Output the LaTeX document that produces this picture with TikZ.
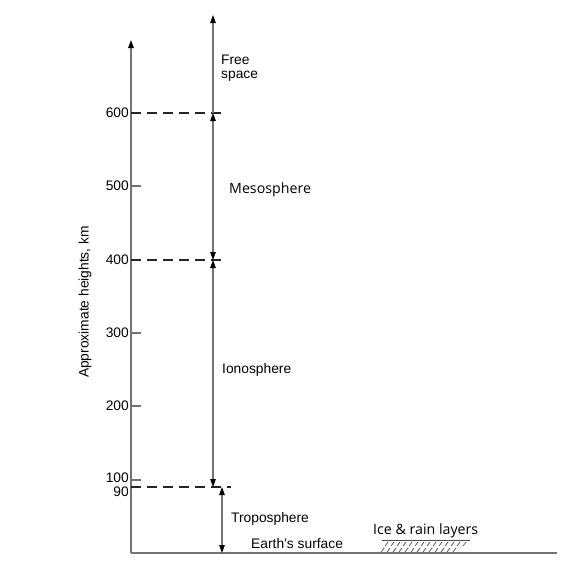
\documentclass[tikz,border=0pt]{standalone}
\usepackage{fontspec}
\setmainfont{Liberation Sans}
\newfontfamily\humanist{Open Sans}
\usetikzlibrary{arrows.meta}

\begin{document}
\begin{tikzpicture}
      [x=1pt, y=-1pt, font=\fontsize{13.8}{16}\selectfont,
      axisline/.style={draw=black!55, line width=1.3pt},
      layerline/.style={draw=black!85, line width=1.4pt, dash pattern=on 10pt off 6pt},
      span/.style={draw=black!55, line width=1.1pt,
        {Triangle[length=8pt,width=5.5pt,color=black]}-{Triangle[length=8pt,width=5.5pt,color=black]}},
      up/.style={draw=black!55, line width=1.1pt, -{Triangle[length=8pt,width=5.5pt,color=black]}},
      ticklabel/.style={anchor=east, inner sep=0pt},
      layer/.style={anchor=west, inner sep=0pt, align=left},
      humanlayer/.style={layer, font=\humanist\fontsize{14.2}{16}\selectfont}]
      \useasboundingbox (0,0) rectangle (574,574);

      % axes
      \coordinate (origin) at (131,553);
      \coordinate (axtop) at (131,40);
      \coordinate (gndend) at (557,553);
      \draw[axisline, -{Triangle[length=8pt,width=5.5pt,color=black]}] (origin) -- (axtop);
      \draw[axisline] (origin) -- (gndend);
      \node[rotate=90] (axlabel) at (85,302) {Approximate heights, km};

      % ticks
      \foreach \h/\y in {500/186, 300/333, 200/406, 100/480} {
        \draw[axisline] (131,\y) -- (141,\y);
      }
      \foreach \h/\y in {600/113, 500/186, 400/260, 300/333, 200/406, 100/478, 90/491.5}
        \node[ticklabel] (t\h) at (129,\y) {\h};

      % layer boundaries
      \coordinate (b600) at (131,113);
      \coordinate (b400) at (131,260);
      \coordinate (b90) at (131,487);
      \coordinate (e600) at (222,113);
      \coordinate (e400) at (222,260);
      \coordinate (e90) at (231,487);
      \draw[layerline] (b600) -- (e600);
      \draw[layerline] (b400) -- (e400);
      \draw[layerline] (b90) -- (e90);

      % spans
      \coordinate (s0) at (213,15);
      \coordinate (s600) at (213,113);
      \coordinate (s400) at (213,260);
      \coordinate (s90) at (213,487);
      \coordinate (r90) at (222,487);
      \coordinate (r0) at (222,553);
      \draw[up] (s600) -- (s0);
      \draw[span] (s600) -- (s400);
      \draw[span] (s400) -- (s90);
      \draw[span] (r90) -- (r0);

      % labels
      \node[layer] (free) at (221,68) {Free\\[-2pt]space};
      \node[humanlayer] (meso) at (229,190) {Mesosphere};
      \node[layer] (iono) at (222,370) {Ionosphere};
      \node[layer] (tropo) at (231,519) {Troposphere};
      \node[layer] (earth) at (251,544) {Earth's surface};
      \node[humanlayer] (ice) at (373,531) {Ice \& rain layers};

      % ice layer hatching
      \coordinate (h1) at (382,540);
      \coordinate (h2) at (470,540);
      \draw[black!70, line width=0.8pt] (h1) -- (h2);
      \foreach \x in {385,391,...,463}
        \draw[black!70, line width=0.7pt] (\x,546) -- (\x+3,542);
      \foreach \x in {381,387,...,453}
        \draw[black!70, line width=0.7pt] (\x,552) -- (\x+3,548);
    \end{tikzpicture}
\end{document}
